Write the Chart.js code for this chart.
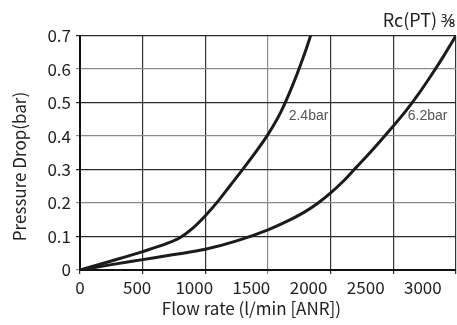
<!DOCTYPE html>
<html><head><meta charset="utf-8">
<script src="https://cdn.jsdelivr.net/npm/chart.js@4/dist/chart.umd.min.js"></script>
<style>html,body{margin:0;padding:0;background:#fff}#wrap{width:457px;height:325px;position:relative}</style>
</head><body><div id="wrap"><canvas id="c"></canvas></div>
<script>
// ---- data ----
const chartTitle = 'Rc(PT) \u215C';
const xTitle = 'Flow rate (l/min [ANR])';
const yTitle = 'Pressure Drop(bar)';
const seriesNames = ['2.4bar', '6.2bar'];
const flow24 = [0, 250, 500, 700, 800, 900, 1000, 1100, 1200, 1300, 1400, 1500, 1600, 1700, 1800, 1840];
const drop24 = [0, 0.027, 0.055, 0.08, 0.097, 0.125, 0.162, 0.205, 0.253, 0.301, 0.351, 0.405, 0.47, 0.555, 0.655, 0.70];
const flow62 = [0, 250, 500, 750, 1000, 1250, 1500, 1650, 1800, 1900, 2000, 2100, 2200, 2300, 2400, 2500, 2600, 2700, 2800, 2900, 3000];
const drop62 = [0, 0.016, 0.031, 0.046, 0.062, 0.087, 0.12, 0.145, 0.175, 0.2, 0.23, 0.265, 0.305, 0.345, 0.387, 0.43, 0.475, 0.525, 0.58, 0.638, 0.7];
const xTicks = [0, 500, 1000, 1500, 2000, 2500, 3000];
const yTicks = [0, 0.1, 0.2, 0.3, 0.4, 0.5, 0.6, 0.7];
const labelFlow = [1665, 2615];
const labelDrop = [0.458, 0.458];
const xLabelScaleMax = 3290; // tick labels in the source are set on a slightly compressed row

const FONT = '"Noto Sans CJK JP", "Noto Sans", sans-serif';
const toPts = (xs, ys) => xs.map((v, i) => ({x: v, y: ys[i]}));

const textPlugin = {
  id: 'texts',
  afterDraw(chart) {
    const {ctx} = chart;
    const {x, x2, y} = chart.scales;
    ctx.save();
    ctx.fillStyle = '#555';
    ctx.font = '14px "Liberation Sans", Arial, sans-serif';
    ctx.textAlign = 'left';
    ctx.textBaseline = 'middle';
    seriesNames.forEach((n, i) => {
      ctx.fillText(n, x.getPixelForValue(labelFlow[i]), y.getPixelForValue(labelDrop[i]));
    });
    ctx.fillStyle = '#222';
    ctx.font = '17px ' + FONT;
    ctx.textAlign = 'center';
    ctx.textBaseline = 'alphabetic';
    const cx = (x2.getPixelForValue(xTicks[0]) + x2.getPixelForValue(xTicks[xTicks.length - 1])) / 2;
    ctx.fillText(xTitle, cx, chart.height - 10);
    ctx.translate(26, chart.height / 2 + 4);
    ctx.rotate(-Math.PI / 2);
    ctx.fillText(yTitle, 0, 0);
    ctx.restore();
  }
};

const hColor = ctx => {
  const v = ctx.tick ? Math.round(ctx.tick.value * 10) : 0;
  return v % 2 === 1 ? '#2a2a2a' : '#8a8a8a';
};
const vColor = ctx => {
  const v = ctx.tick ? ctx.tick.value : 0;
  return (v === 1500) ? '#8a8a8a' : '#333';
};

new Chart(document.getElementById('c'), {
  type: 'line',
  data: {
    datasets: [
      {label: seriesNames[0], data: toPts(flow24, drop24)},
      {label: seriesNames[1], data: toPts(flow62, drop62)}
    ]
  },
  options: {
    responsive: true,
    maintainAspectRatio: false,
    animation: false,
    devicePixelRatio: 1,
    layout: {padding: {right: 1}},
    elements: {
      line: {borderColor: '#1b1b1b', borderWidth: 3, tension: 0.4, cubicInterpolationMode: 'monotone', fill: false},
      point: {radius: 0, hoverRadius: 0}
    },
    plugins: {
      legend: {display: false},
      tooltip: {enabled: false},
      title: {
        display: true, text: chartTitle, align: 'end', color: '#222',
        font: {family: FONT, size: 18, weight: 'normal'},
        padding: {top: 9, bottom: 5}
      }
    },
    scales: {
      x: {
        type: 'linear', position: 'bottom', weight: 0, min: 0, max: 3000,
        afterBuildTicks: s => { s.ticks = xTicks.map(v => ({value: v})); },
        ticks: {display: false},
        grid: {color: vColor, lineWidth: 1.2, tickLength: 4, drawTicks: true},
        border: {display: true, color: '#111', width: 2},
        afterFit: s => { s.height = 4; }
      },
      x2: {
        type: 'linear', position: 'bottom', weight: 1, min: 0, max: xLabelScaleMax,
        afterBuildTicks: s => { s.ticks = xTicks.map(v => ({value: v})); },
        ticks: {color: '#222', font: {family: FONT, size: 17}, padding: 3, maxRotation: 0,
          callback: v => String(v)},
        grid: {display: false, drawTicks: false},
        border: {display: false},
        afterFit: s => { s.height = 51; }
      },
      y: {
        type: 'linear', min: 0, max: 0.7,
        afterBuildTicks: s => { s.ticks = yTicks.map(v => ({value: v})); },
        ticks: {color: '#222', font: {family: FONT, size: 17}, padding: 5,
          callback: v => v === 0 ? '0' : v.toFixed(1)},
        grid: {color: hColor, lineWidth: 1.2, tickLength: 4, drawTicks: true},
        border: {display: true, color: '#111', width: 2},
        afterFit: s => { s.width = 80; }
      }
    }
  },
  plugins: [textPlugin]
});
</script>
</body></html>
